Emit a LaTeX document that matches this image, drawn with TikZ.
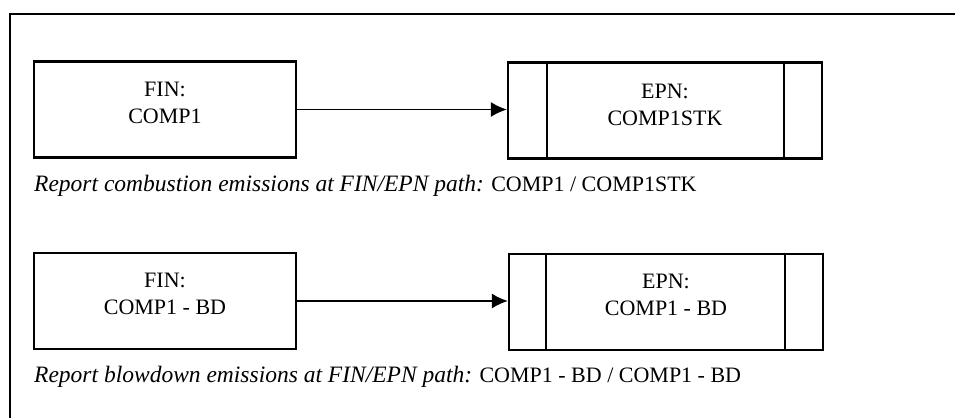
\documentclass[tikz,border=0pt]{standalone}
\usepackage{fontspec}
\setmainfont{Liberation Serif}
\usetikzlibrary{arrows.meta}
\tikzset{
  finbox/.style={draw, line width=2.2pt, minimum width=262pt, minimum height=96pt, inner sep=0pt},
  epnbox/.style={draw, line width=2.2pt, minimum width=314pt, minimum height=96pt, inner sep=0pt},
  boxtext/.style={align=center, inner sep=0pt, font=\fontsize{22}{27}\selectfont},
  divider/.style={line width=2.2pt},
  flow/.style={line width=1.8pt, -{Latex[length=16pt,width=15pt]}},
  caption/.style={anchor=west, inner sep=0pt, font=\fontsize{22}{24}\selectfont},
  frame/.style={line width=2pt}
}
\newcommand{\capital}[1]{{\fontsize{23.5}{24}\selectfont\itshape #1}}
\begin{document}
\begin{tikzpicture}[x=1pt,y=-1pt]
\useasboundingbox (0,0) rectangle (955,418);
\coordinate (ftop) at (955,14);
\coordinate (fcorner) at (10,14);
\coordinate (fbot) at (10,418);
\draw[frame] (ftop) -- (fcorner) -- (fbot);

\node[finbox] (fin1) at (165,109.5) {};
\node[boxtext] (fin1t) at ([yshift=7pt]fin1.center) {FIN:\\COMP1};
\node[epnbox] (epn1) at (665,110.5) {};
\node[boxtext] (epn1t) at ([yshift=6pt]epn1.center) {EPN:\\COMP1STK};
\draw[divider] ([xshift=40pt]epn1.north west) -- ([xshift=40pt]epn1.south west);
\draw[divider] ([xshift=-39pt]epn1.north east) -- ([xshift=-39pt]epn1.south east);
\draw[flow] (fin1.east) -- (epn1.west |- fin1.east);
\node[caption] (cap1) at (34,186) {\capital{Report combustion emissions at FIN/EPN path:} COMP1 / COMP1STK};

\node[finbox] (fin2) at (165,301) {};
\node[boxtext] (fin2t) at ([yshift=7pt]fin2.center) {FIN:\\COMP1 - BD};
\node[epnbox] (epn2) at (666,302) {};
\node[boxtext] (epn2t) at ([yshift=7pt]epn2.center) {EPN:\\COMP1 - BD};
\draw[divider] ([xshift=38pt]epn2.north west) -- ([xshift=38pt]epn2.south west);
\draw[divider] ([xshift=-39pt]epn2.north east) -- ([xshift=-39pt]epn2.south east);
\draw[flow] (fin2.east) -- (epn2.west |- fin2.east);
\node[caption] (cap2) at (34,377) {\capital{Report blowdown emissions at FIN/EPN path:} COMP1 - BD / COMP1 - BD};
\end{tikzpicture}
\end{document}
